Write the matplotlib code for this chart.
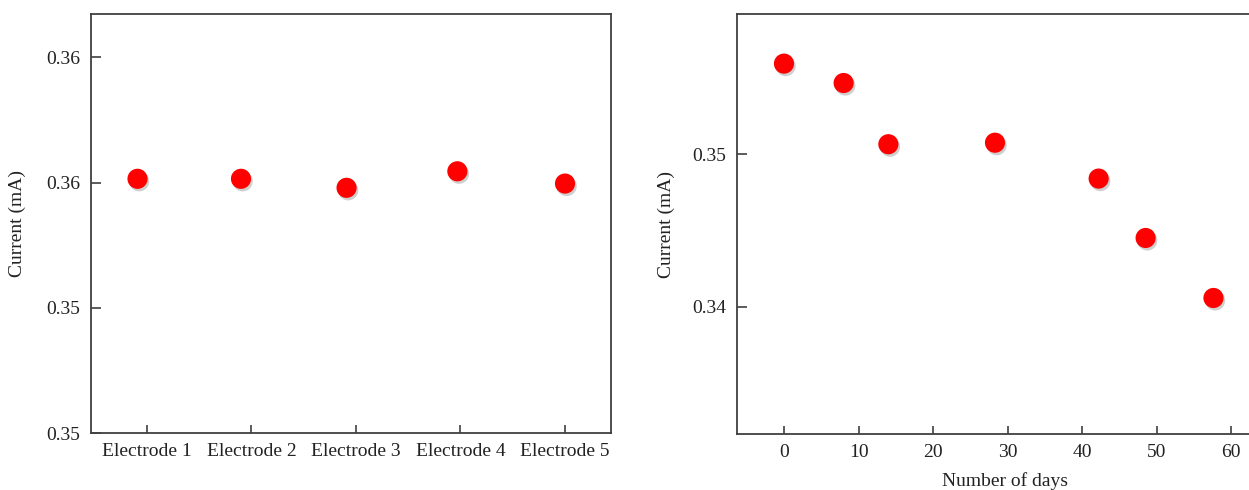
import matplotlib
matplotlib.use('Agg')
import matplotlib.pyplot as plt
import matplotlib.patheffects as pe

# left panel: current of five electrodes
electrodes = ['Electrode 1', 'Electrode 2', 'Electrode 3', 'Electrode 4', 'Electrode 5']
electrode_pos = [-0.09, 0.90, 1.91, 2.97, 4.0]
electrode_current = [0.36015, 0.36015, 0.35979, 0.36045, 0.35996]
left_yticks = [0.35, 0.355, 0.36, 0.365]
left_ylabels = ['0.35', '0.35', '0.36', '0.36']

# right panel: current over time
days = [0, 8, 14, 28.3, 42.2, 48.5, 57.6]
day_current = [0.35594, 0.35467, 0.35066, 0.35076, 0.34841, 0.34452, 0.34059]
right_yticks = [0.34, 0.35]
right_ylabels = ['0.34', '0.35']
right_xticks = [0, 10, 20, 30, 40, 50, 60]

plt.rcParams['font.family'] = ['Liberation Serif', 'DejaVu Serif']
plt.rcParams['font.size'] = 14

W, H = 1249, 490
fig = plt.figure(figsize=(W / 100, H / 100), dpi=100)

spine_color = '#404040'
text_color = '#222222'
shadow = [pe.SimplePatchShadow(offset=(1.2, -1.8), shadow_rgbFace='#777777', alpha=0.35),
          pe.Normal()]


def style_axes(ax):
    for s in ax.spines.values():
        s.set_color(spine_color)
        s.set_linewidth(1.3)
    ax.tick_params(axis='y', direction='in', length=7, width=1.2,
                   color=spine_color, pad=8, labelcolor=text_color)
    ax.tick_params(axis='x', direction='in', length=6, width=1.2,
                   color=spine_color, pad=7, labelcolor=text_color)


# left panel
ax1 = fig.add_axes([91 / W, 1 - 433 / H, 520 / W, 419 / H])
ax1.plot(electrode_pos, electrode_current, 'o', color='#ff0000', ms=14.5,
         mec='none', path_effects=shadow)
ax1.set_xlim(-0.535, 4.44)
ax1.set_ylim(0.35, 0.36673)
ax1.set_xticks(range(len(electrodes)))
ax1.set_xticklabels(electrodes)
ax1.set_yticks(left_yticks)
ax1.set_yticklabels(left_ylabels)
ax1.set_ylabel('Current (mA)', color=text_color)
ax1.yaxis.set_label_coords((26 - 91) / 520, 0.5)
style_axes(ax1)

# right panel
ax2 = fig.add_axes([737 / W, 1 - 434 / H, 513 / W, 420 / H])
ax2.plot(days, day_current, 'o', color='#ff0000', ms=14.5,
         mec='none', path_effects=shadow)
ax2.set_xlim(-6.3, 62.5)
ax2.set_ylim(0.33168, 0.35919)
ax2.set_xticks(right_xticks)
ax2.set_yticks(right_yticks)
ax2.set_yticklabels(right_ylabels)
ax2.set_xlabel('Number of days', color=text_color)
ax2.xaxis.set_label_coords((1005 - 737) / 513, (434 - 472) / 420)
ax2.set_ylabel('Current (mA)', color=text_color)
ax2.yaxis.set_label_coords((675 - 737) / 513, 0.5)
style_axes(ax2)

fig.savefig('out.png', dpi=100)
